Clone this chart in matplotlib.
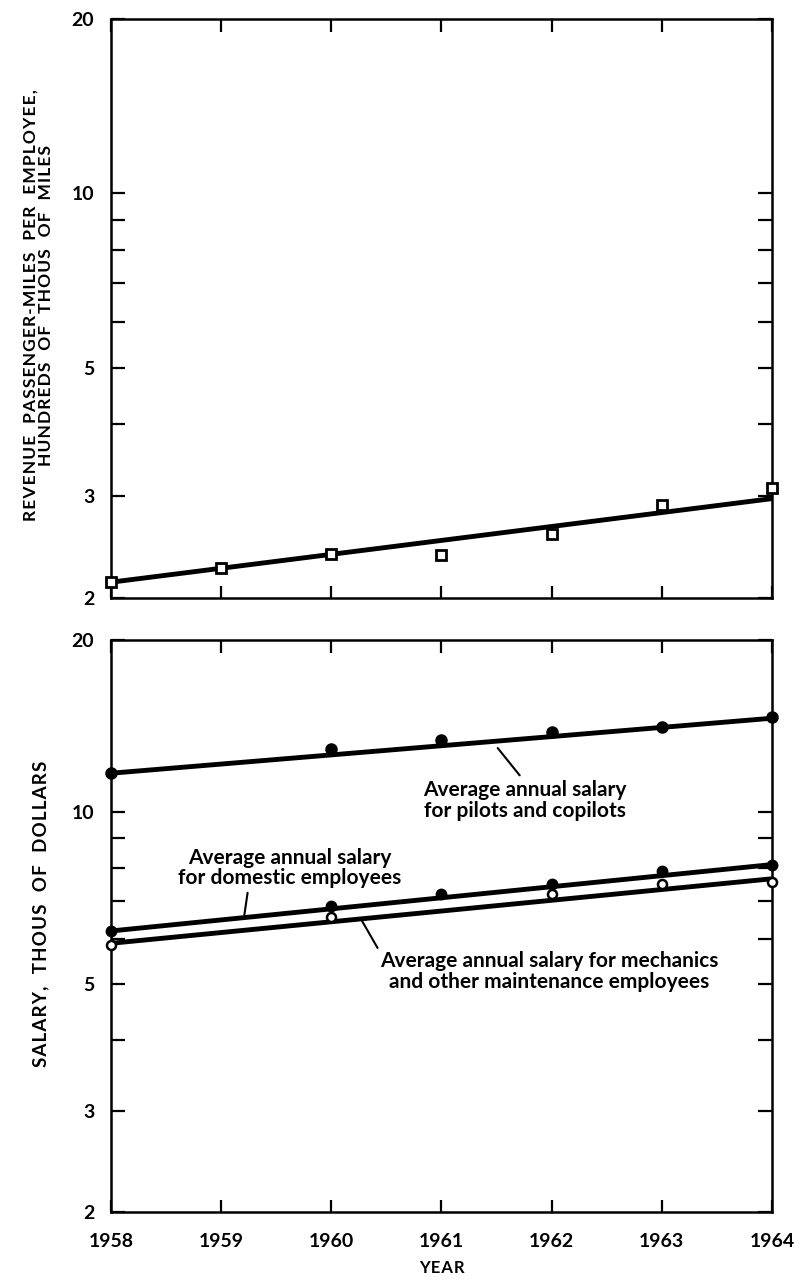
import matplotlib.pyplot as plt
from matplotlib.ticker import FixedLocator, NullFormatter

plt.rcParams['font.family'] = ['Lato', 'DejaVu Sans']
plt.rcParams['font.weight'] = 'bold'

# ---- data ----
years = [1958, 1959, 1960, 1961, 1962, 1963, 1964]
trend_years = [1958, 1964]

# revenue passenger-miles per employee, hundreds of thous of miles
rpm = [2.13, 2.25, 2.38, 2.37, 2.58, 2.90, 3.10]
rpm_trend = [2.13, 2.97]

# salaries, thous of dollars
pilot_years = [1958, 1960, 1961, 1962, 1963, 1964]
pilots = [11.7, 12.9, 13.4, 13.8, 14.1, 14.7]
pilots_trend = [11.7, 14.6]

domestic_years = [1958, 1960, 1961, 1962, 1963, 1964]
domestic = [6.2, 6.85, 7.2, 7.5, 7.9, 8.1]
domestic_trend = [6.2, 8.1]

mech_years = [1958, 1960, 1962, 1963, 1964]
mechanics = [5.85, 6.55, 7.2, 7.5, 7.55]
mech_trend = [5.9, 7.65]

major_y = [2, 3, 5, 10, 20]
minor_y = [4, 6, 7, 8, 9]


def spaced(s):
    # open up the letters a little, like the lettering on the old plates
    return '\n'.join('\u200a'.join(line) for line in s.split('\n'))


fig = plt.figure(figsize=(7.99, 12.85), dpi=100)
ax1 = fig.add_axes([0.1389, 0.5346, 0.8273, 0.4505])
ax2 = fig.add_axes([0.1389, 0.0568, 0.8273, 0.4451])


def style_axis(ax, show_x):
    ax.set_yscale('log')
    ax.set_ylim(2, 20)
    ax.set_xlim(1958, 1964)
    ax.yaxis.set_major_locator(FixedLocator(major_y))
    ax.yaxis.set_minor_locator(FixedLocator(minor_y))
    ax.yaxis.set_minor_formatter(NullFormatter())
    ax.set_yticklabels([str(v) for v in major_y])
    ax.set_xticks(years)
    if show_x:
        ax.set_xticklabels([str(y) for y in years])
    else:
        ax.set_xticklabels([])
    for s in ax.spines.values():
        s.set_linewidth(1.8)
    ax.tick_params(axis='y', which='both', direction='in', left=True, right=True,
                   length=10, width=1.6, labelsize=14, pad=12)
    ax.tick_params(axis='x', which='both', direction='in', top=True, bottom=True,
                   length=9, width=1.6, labelsize=14, pad=15)


style_axis(ax1, False)
style_axis(ax2, True)

line_kw = dict(color='black', lw=3.5, solid_capstyle='butt', zorder=2)

# ---- top panel ----
ax1.plot(trend_years, rpm_trend, **line_kw)
ax1.plot(years, rpm, ls='none', marker='s', ms=7, mfc='white', mec='black',
         mew=2, clip_on=False, zorder=3)

# ---- bottom panel ----
ax2.plot(trend_years, pilots_trend, **line_kw)
ax2.plot(trend_years, domestic_trend, **line_kw)
ax2.plot(trend_years, mech_trend, **line_kw)
ax2.plot(pilot_years, pilots, ls='none', marker='o', ms=8, color='black',
         clip_on=False, zorder=3)
ax2.plot(domestic_years, domestic, ls='none', marker='o', ms=7.5, color='black',
         clip_on=False, zorder=3)
ax2.plot(mech_years, mechanics, ls='none', marker='o', ms=6.5, mfc='white',
         mec='black', mew=1.8, clip_on=False, zorder=3)

lead = dict(arrowstyle='-', lw=1.5, color='black', shrinkA=0, shrinkB=0)
txt = dict(fontsize=15, fontweight='bold', ha='center', va='center',
           linespacing=1.05)

ax2.annotate('', xy=(1961.51, 12.95), xytext=(1961.71, 11.6), arrowprops=lead)
ax2.text(1961.76, 10.5, 'Average annual salary\nfor pilots and copilots', **txt)

ax2.annotate('', xy=(1959.21, 6.6), xytext=(1959.24, 7.23), arrowprops=lead)
ax2.text(1959.62, 7.99, 'Average annual salary\nfor domestic employees', **txt)

ax2.annotate('', xy=(1960.28, 6.45), xytext=(1960.42, 5.79), arrowprops=lead)
ax2.text(1961.98, 5.26,
         'Average annual salary for mechanics\nand other maintenance employees', **txt)

ax2.text(0.5, -0.098, spaced('YEAR'), transform=ax2.transAxes, ha='center',
         va='center', fontsize=12, fontweight='bold')

fig.text(0.0476, 0.7626,
         spaced('REVENUE  PASSENGER-MILES  PER  EMPLOYEE,\nHUNDREDS  OF  THOUS  OF  MILES'),
         rotation=90, ha='center', va='center', ma='center', fontsize=12.5,
         fontweight='bold', linespacing=1.0)
fig.text(0.0513, 0.2887, spaced('SALARY,  THOUS  OF  DOLLARS'), rotation=90,
         ha='center', va='center', fontsize=13.5, fontweight='bold')

fig.savefig('out.png', dpi=100, facecolor='white')
